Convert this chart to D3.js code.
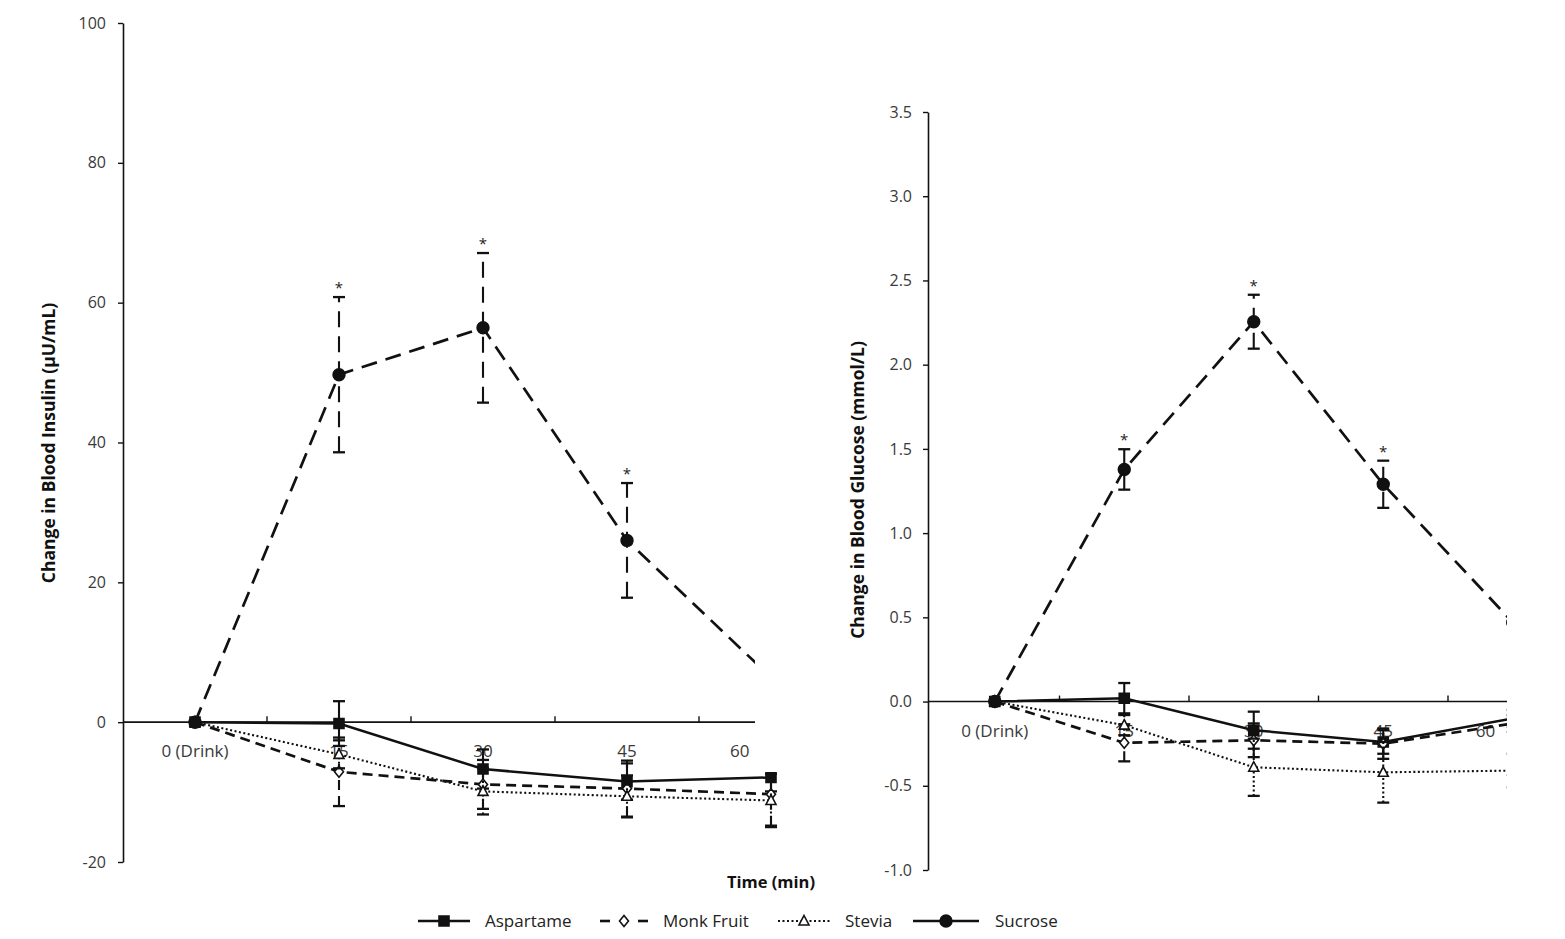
<!DOCTYPE html>
<html>
<head>
<meta charset="utf-8">
<script src="https://cdn.jsdelivr.net/npm/d3@7"></script>
<style>
  html, body { margin: 0; padding: 0; background: #fff; }
  svg { display: block; }
  svg text { font-family: "Open Sans", "DejaVu Sans", sans-serif; }
</style>
</head>
<body>
<svg id="chart" width="1565" height="939"></svg>
<script>
// ---------------- DATA ----------------
const categories = ["0 (Drink)", "15", "30", "45", "60"];
const seriesNames = ["Aspartame", "Monk Fruit", "Stevia", "Sucrose"];

// Insulin (µU/mL)
const insulinTicks = [-20, 0, 20, 40, 60, 80, 100];
const insulinAspartame    = [0, -0.2, -6.7, -8.5, -7.9];
const insulinAspartameErr = [0, 3.2, 2.8, 2.6, 2.0];
const insulinMonkFruit    = [0, -7.1, -8.9, -9.5, -10.3];
const insulinMonkFruitErr = [0, 4.9, 3.5, 4.0, 4.5];
const insulinStevia       = [0, -4.6, -9.9, -10.6, -11.2];
const insulinSteviaErr    = [0, 2.0, 3.3, 3.0, 3.8];
const insulinSucrose      = [0, 49.7, 56.4, 26.0, 6.4];
const insulinSucroseErr   = [0, 11.1, 10.7, 8.2, 0];
const insulinSignif       = [false, true, true, true, false];

// Glucose (mmol/L)
const glucoseTicks = [-1.0, -0.5, 0.0, 0.5, 1.0, 1.5, 2.0, 2.5, 3.0, 3.5];
const glucoseAspartame    = [0, 0.02, -0.17, -0.24, -0.10];
const glucoseAspartameErr = [0, 0.09, 0.11, 0.07, 0.05];
const glucoseMonkFruit    = [0, -0.245, -0.23, -0.25, -0.13];
const glucoseMonkFruitErr = [0, 0.11, 0.10, 0.09, 0.05];
const glucoseStevia       = [0, -0.14, -0.39, -0.42, -0.41];
const glucoseSteviaErr    = [0, 0.06, 0.17, 0.18, 0.10];
const glucoseSucrose      = [0, 1.378, 2.255, 1.29, 0.47];
const glucoseSucroseErr   = [0, 0.12, 0.16, 0.14, 0];
const glucoseSignif       = [false, true, true, true, false];

// ---------------- STYLES ----------------
const styles = {
  "Aspartame":  { dash: null,    width: 2.5, marker: "square",   fill: "#111" },
  "Monk Fruit": { dash: "10,6",  width: 2.7, marker: "diamond",  fill: "#fff" },
  "Stevia":     { dash: "2,2.5", width: 2.1, marker: "triangle", fill: "#fff" },
  "Sucrose":    { dash: "16,9",  width: 2.7, marker: "circle",   fill: "#111" }
};
const ink = "#111";
const tickColor = "#3a3a3a";
const FONT = '"Open Sans", "DejaVu Sans", sans-serif';

const svg = d3.select("#chart");
const defs = svg.append("defs");

function markerPath(type) {
  switch (type) {
    case "square": return d3.symbol(d3.symbolSquare, 100)();
    case "diamond": return "M0,-5.5L4.5,0L0,5.5L-4.5,0Z";
    case "triangle": return "M0,-5.5L5,4L-5,4Z";
    case "circle": return d3.symbol(d3.symbolCircle, 110)();
  }
}

function drawPanel(cfg) {
  const x = d3.scaleBand().domain(categories).range(cfg.xRange).padding(0);
  const y = d3.scaleLinear().domain(cfg.yDomain).range(cfg.yRange);
  const g = svg.append("g");

  const clipId = "clip-" + cfg.id;
  defs.append("clipPath").attr("id", clipId)
    .append("path").attr("d", cfg.clip);

  // y axis
  const yAxis = d3.axisLeft(y).tickValues(cfg.ticks).tickSize(5).tickSizeOuter(0)
    .tickPadding(cfg.tickPad).tickFormat(d => cfg.fmt(d).replace("\u2212", "-"));
  const ya = g.append("g").attr("transform", `translate(${cfg.axisX},0)`).call(yAxis)
    .attr("font-family", FONT);
  ya.select(".domain").attr("stroke", ink).attr("stroke-width", 1.6);
  ya.selectAll(".tick line").attr("stroke", ink).attr("stroke-width", 1.4);
  ya.selectAll(".tick text").attr("fill", tickColor).style("font-size", "16px");

  const clipped = g.append("g").attr("clip-path", `url(#${clipId})`);

  // x axis line at zero
  const y0 = y(0);
  clipped.append("line")
    .attr("x1", cfg.axisX).attr("x2", cfg.xRange[1])
    .attr("y1", y0).attr("y2", y0)
    .attr("stroke", ink).attr("stroke-width", 1.6);
  const bounds = categories.map(c => x(c) + x.bandwidth());
  clipped.selectAll("line.xtick").data(bounds).join("line")
    .attr("class", "xtick")
    .attr("x1", d => d).attr("x2", d => d)
    .attr("y1", y0).attr("y2", y0 - 6)
    .attr("stroke", ink).attr("stroke-width", 1.4);
  const xa = clipped.append("g").attr("transform", `translate(0,${y0})`)
    .call(d3.axisBottom(x).tickSize(0).tickPadding(23))
    .attr("font-family", FONT);
  xa.select(".domain").remove();
  xa.selectAll(".tick text").attr("fill", tickColor).style("font-size", "17px")
    .each(function(d, i) {
      if (i === categories.length - 1) {
        d3.select(this).attr("text-anchor", "start").attr("x", -0.285 * x.bandwidth());
      }
    });

  // series
  seriesNames.forEach(name => {
    const s = cfg.series[name];
    const st = styles[name];
    const pts = categories.map((c, i) => ({ c, v: s.values[i], e: s.err[i], i }));
    const cxf = d => x(d.c) + x.bandwidth() / 2;
    const sg = clipped.append("g");
    sg.append("path").datum(pts)
      .attr("d", d3.line().x(cxf).y(d => y(d.v)))
      .attr("fill", "none").attr("stroke", ink)
      .attr("stroke-width", st.width)
      .attr("stroke-dasharray", st.dash);
    const eb = pts.filter(d => d.e > 0);
    sg.selectAll("line.eb").data(eb).join("line").attr("class", "eb")
      .attr("x1", cxf).attr("x2", cxf)
      .attr("y1", d => y(d.v - d.e)).attr("y2", d => y(d.v + d.e))
      .attr("stroke", ink).attr("stroke-width", 2.1)
      .attr("stroke-dasharray", st.dash);
    ["capTop", "capBot"].forEach(cls => {
      sg.selectAll("line." + cls).data(eb).join("line").attr("class", cls)
        .attr("x1", d => cxf(d) - 6).attr("x2", d => cxf(d) + 6)
        .attr("y1", d => y(cls === "capTop" ? d.v + d.e : d.v - d.e))
        .attr("y2", d => y(cls === "capTop" ? d.v + d.e : d.v - d.e))
        .attr("stroke", ink).attr("stroke-width", 2.3);
    });
    sg.selectAll("path.mk").data(pts).join("path").attr("class", "mk")
      .attr("d", markerPath(st.marker))
      .attr("transform", d => `translate(${cxf(d)},${y(d.v)})`)
      .attr("fill", st.fill).attr("stroke", ink).attr("stroke-width", 1.6);
    if (name === "Sucrose") {
      sg.selectAll("text.star").data(pts.filter(d => cfg.signif[d.i])).join("text")
        .attr("class", "star")
        .attr("x", cxf)
        .attr("y", d => y(d.v + d.e) - 4)
        .attr("text-anchor", "middle")
        .style("font-size", "15px").attr("fill", "#222")
        .text("*");
    }
  });

  g.append("text")
    .attr("transform", `translate(${cfg.titleX},${cfg.titleY}) rotate(-90)`)
    .attr("text-anchor", "middle")
    .style("font-size", "17.5px").style("font-weight", "bold").attr("fill", "#111")
    .text(cfg.title);
  return { x, y };
}

drawPanel({
  id: "insulin",
  xRange: [123, 123 + 5 * 144],
  yDomain: [-20, 100], yRange: [862, 23],
  axisX: 123, ticks: insulinTicks, tickPad: 12, fmt: d3.format("d"),
  clip: "M0,0H755V772H779V939H0Z",
  title: "Change in Blood Insulin (µU/mL)", titleX: 55, titleY: 443,
  signif: insulinSignif,
  series: {
    "Aspartame":  { values: insulinAspartame, err: insulinAspartameErr },
    "Monk Fruit": { values: insulinMonkFruit, err: insulinMonkFruitErr },
    "Stevia":     { values: insulinStevia,    err: insulinSteviaErr },
    "Sucrose":    { values: insulinSucrose,   err: insulinSucroseErr }
  }
});

drawPanel({
  id: "glucose",
  xRange: [930, 930 + 5 * 129.5],
  yDomain: [-1, 3.5], yRange: [870, 112],
  axisX: 928, ticks: glucoseTicks, tickPad: 11, fmt: d3.format(".1f"),
  clip: "M800,0H1507V939H800Z",
  title: "Change in Blood Glucose (mmol/L)", titleX: 864, titleY: 490,
  signif: glucoseSignif,
  series: {
    "Aspartame":  { values: glucoseAspartame, err: glucoseAspartameErr },
    "Monk Fruit": { values: glucoseMonkFruit, err: glucoseMonkFruitErr },
    "Stevia":     { values: glucoseStevia,    err: glucoseSteviaErr },
    "Sucrose":    { values: glucoseSucrose,   err: glucoseSucroseErr }
  }
});

svg.append("text")
  .attr("x", 771).attr("y", 888).attr("text-anchor", "middle")
  .style("font-size", "16.5px").style("font-weight", "bold").attr("fill", "#111")
  .text("Time (min)");

// legend
const legendItems = [
  { name: "Aspartame",  x0: 418, x1: 470, tx: 485, seg: "solid" },
  { name: "Monk Fruit", x0: 598, x1: 650, tx: 663, seg: "split" },
  { name: "Stevia",     x0: 778, x1: 830, tx: 845, seg: "dotted" },
  { name: "Sucrose",    x0: 913, x1: 979, tx: 995, seg: "solid" }
];
const ly = 921;
const lg = svg.append("g");
legendItems.forEach(it => {
  const st = styles[it.name];
  const cx = (it.x0 + it.x1) / 2;
  if (it.seg === "split") {
    lg.append("line").attr("x1", it.x0 + 2).attr("x2", it.x0 + 12).attr("y1", ly).attr("y2", ly)
      .attr("stroke", ink).attr("stroke-width", 2.6);
    lg.append("line").attr("x1", it.x1 - 12).attr("x2", it.x1 - 2).attr("y1", ly).attr("y2", ly)
      .attr("stroke", ink).attr("stroke-width", 2.6);
  } else {
    lg.append("line").attr("x1", it.x0).attr("x2", it.x1).attr("y1", ly).attr("y2", ly)
      .attr("stroke", ink).attr("stroke-width", it.seg === "dotted" ? 2 : 2.6)
      .attr("stroke-dasharray", it.seg === "dotted" ? "2,2.5" : null);
  }
  lg.append("path").attr("d", markerPath(st.marker))
    .attr("transform", `translate(${cx},${ly})`)
    .attr("fill", st.fill).attr("stroke", ink).attr("stroke-width", 1.6);
  lg.append("text").attr("x", it.tx).attr("y", ly + 6)
    .style("font-size", "17px").attr("fill", "#222").text(it.name);
});
</script>
</body>
</html>
